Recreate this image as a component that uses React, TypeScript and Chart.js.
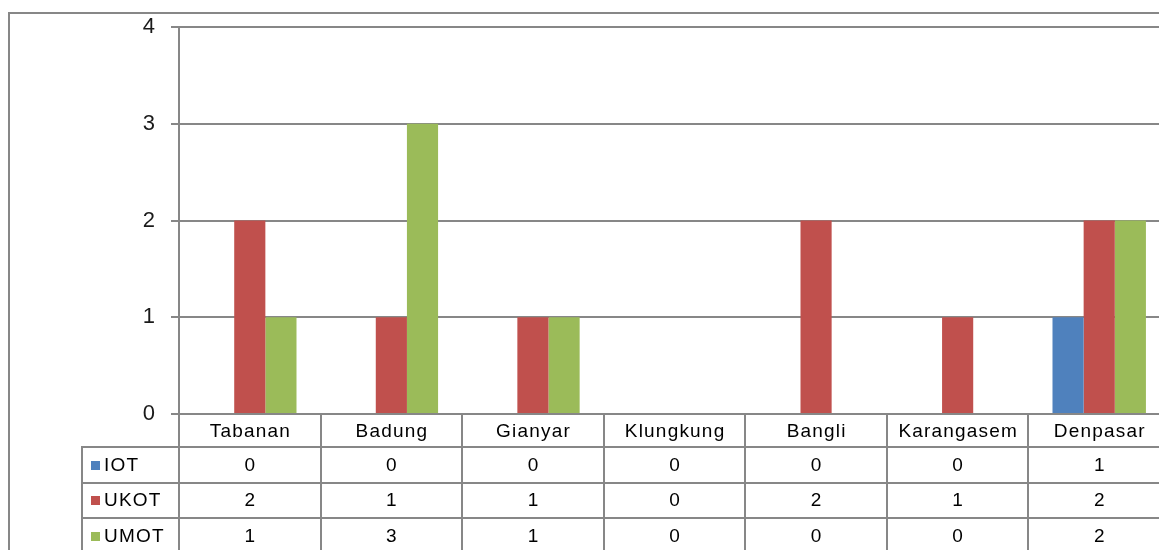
import React, { useEffect, useRef } from "react";
import { Chart, registerables } from "chart.js";

Chart.register(...registerables);

const categories = ["Tabanan", "Badung", "Gianyar", "Klungkung", "Bangli", "Karangasem", "Denpasar"];
const seriesNames = ["IOT", "UKOT", "UMOT"];
const iotValues = [0, 0, 0, 0, 0, 0, 1];
const ukotValues = [2, 1, 1, 0, 2, 1, 2];
const umotValues = [1, 3, 1, 0, 0, 0, 2];
const seriesColors = ["#4F81BD", "#C0504D", "#9BBB59"];
const yTicks = [0, 1, 2, 3, 4];

const FONT = '"Liberation Sans", Arial, sans-serif';
const LINE = "#878787";

const tablePlugin = {
  id: "dataTable",
  beforeDraw(chart: any) {
    const ctx = chart.ctx;
    ctx.save();
    ctx.strokeStyle = LINE;
    ctx.lineWidth = 2;
    ctx.strokeRect(9, 13, 1400, 800);
    ctx.restore();
  },
  afterDraw(chart: any) {
    const ctx = chart.ctx;
    const { left, right, bottom } = chart.chartArea;
    const n = categories.length;
    const cw = (right - left) / n;
    const headerH = 33;
    const rowH = 35.5;
    const legendLeft = 82;
    const rowsTop = bottom + headerH;
    const allSeries = [iotValues, ukotValues, umotValues];
    const endY = rowsTop + rowH * 4;

    ctx.save();
    ctx.strokeStyle = LINE;
    ctx.lineWidth = 2;
    ctx.beginPath();
    for (let r = 0; r <= 3; r++) {
      const y = Math.round(rowsTop + r * rowH);
      ctx.moveTo(legendLeft, y);
      ctx.lineTo(right + 20, y);
    }
    ctx.moveTo(legendLeft, rowsTop - 1);
    ctx.lineTo(legendLeft, endY);
    for (let i = 0; i <= n; i++) {
      const x = Math.round(left + i * cw);
      ctx.moveTo(x, bottom);
      ctx.lineTo(x, endY);
    }
    ctx.stroke();

    ctx.fillStyle = "#000";
    ctx.textAlign = "center";
    ctx.textBaseline = "middle";
    ctx.font = `19px ${FONT}`;
    try { (ctx as any).letterSpacing = "1.2px"; } catch (e) {}
    categories.forEach((c, i) => {
      ctx.fillText(c, left + (i + 0.5) * cw + 0.6, bottom + headerH / 2 + 1);
    });
    allSeries.forEach((vals, r) => {
      const cy = rowsTop + (r + 0.5) * rowH + 1;
      vals.forEach((v, i) => {
        ctx.fillText(String(v), left + (i + 0.5) * cw + 0.6, cy);
      });
      ctx.fillStyle = seriesColors[r];
      ctx.fillRect(91, Math.round(cy - 5), 9, 9);
      ctx.fillStyle = "#000";
      ctx.textAlign = "left";
      ctx.fillText(seriesNames[r], 104, cy);
      ctx.textAlign = "center";
    });
    try { (ctx as any).letterSpacing = "0px"; } catch (e) {}
    ctx.restore();
  },
};

export default function App() {
  const ref = useRef<HTMLCanvasElement>(null);
  useEffect(() => {
    const canvas = ref.current!;
    const chart = new Chart(canvas, {
      type: "bar",
      data: {
        labels: categories,
        datasets: [iotValues, ukotValues, umotValues].map((d, i) => ({
          label: seriesNames[i],
          data: d,
          backgroundColor: seriesColors[i],
          borderWidth: 0,
          categoryPercentage: 0.66,
          barPercentage: 1,
        })),
      },
      options: {
        responsive: false,
        animation: false,
        devicePixelRatio: 1,
        layout: { padding: { top: 27, bottom: 136, left: 0, right: 10 } },
        plugins: { legend: { display: false }, tooltip: { enabled: false } },
        scales: {
          x: { display: false },
          y: {
            min: 0,
            max: 4,
            afterBuildTicks: (scale: any) => {
              scale.ticks = yTicks.map((v) => ({ value: v }));
            },
            afterFit: (scale: any) => {
              scale.width = 179;
            },
            ticks: {
              color: "#1a1a1a",
              font: { family: FONT, size: 22, lineHeight: 1 },
              padding: 16,
            },
            grid: { color: LINE, lineWidth: 2, tickLength: 8, drawTicks: true },
            border: { display: true, color: LINE, width: 2 },
          },
        },
      },
      plugins: [tablePlugin],
    });
    return () => chart.destroy();
  }, []);
  return (
    <div style={{ position: "fixed", left: 0, top: 0, width: 1159, height: 550, overflow: "hidden", background: "#fff" }}>
      <canvas ref={ref} width={1180} height={550} style={{ width: 1180, height: 550, display: "block" }} />
    </div>
  );
}
